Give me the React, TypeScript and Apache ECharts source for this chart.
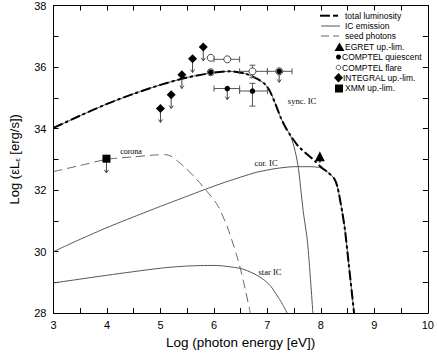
import React, { useEffect, useRef } from "react";
import * as echarts from "echarts";

// ---- data (log photon energy [eV], log eL_e [erg/s]) ----
const totalLuminosity: number[][] = [
  [3, 34.02], [3.5, 34.42], [4, 34.8], [4.5, 35.13], [5, 35.42], [5.5, 35.66],
  [6, 35.82], [6.3, 35.86], [6.6, 35.78], [6.8, 35.62], [6.95, 35.45], [7.05, 35.2],
  [7.15, 34.8], [7.25, 34.35], [7.35, 34.0], [7.43, 33.78], [7.58, 33.42],
  [7.89, 32.94], [8.0, 32.75], [8.15, 32.55], [8.25, 32.37], [8.31, 32.1],
  [8.4, 31.27], [8.45, 30.7], [8.52, 29.6], [8.62, 28.0],
];
const syncIC: number[][] = [
  [3, 34.02], [3.5, 34.42], [4, 34.8], [4.5, 35.13], [5, 35.42], [5.5, 35.66],
  [6, 35.82], [6.3, 35.86], [6.6, 35.78], [6.8, 35.62], [6.95, 35.45], [7.05, 35.2],
  [7.15, 34.8], [7.25, 34.35], [7.35, 34.0], [7.43, 33.78], [7.52, 33.25],
  [7.58, 32.7], [7.67, 31.3], [7.75, 30.3], [7.85, 28.0],
];
const corIC: number[][] = [
  [3, 30.0], [3.5, 30.4], [4, 30.78], [4.5, 31.13], [5, 31.47], [5.5, 31.8],
  [5.8, 32.0], [6.2, 32.25], [6.5, 32.42], [6.8, 32.58], [7.16, 32.7], [7.5, 32.76],
  [7.8, 32.76], [7.95, 32.74], [8.0, 32.72], [8.15, 32.55], [8.25, 32.37],
  [8.31, 32.1], [8.4, 31.27], [8.45, 30.7], [8.52, 29.6], [8.62, 28.0],
];
const starIC: number[][] = [
  [3, 28.98], [4, 29.23], [5, 29.46], [5.5, 29.53], [6, 29.55], [6.5, 29.45],
  [6.75, 29.28], [6.92, 29.1], [7.05, 28.9], [7.15, 28.65], [7.25, 28.38], [7.37, 28.0],
];
const coronaSeed: number[][] = [
  [3, 32.6], [3.5, 32.8], [4, 33.0], [4.5, 33.08], [4.9, 33.14], [5.1, 33.15],
  [5.2, 33.1], [5.3, 32.97], [5.45, 32.75], [5.64, 32.42], [5.85, 32.0],
  [6.07, 31.5], [6.25, 30.8], [6.43, 29.85], [6.55, 29.05], [6.68, 28.0],
];

// points: [x, y]
const egretUL: number[][] = [[7.98, 33.0]];
const xmmUL: number[][] = [[3.99, 33.02]];
const integralUL: number[][] = [
  [5.0, 34.65], [5.2, 35.1], [5.4, 35.75], [5.6, 36.27], [5.8, 36.65],
];
// [x, y, xlo, xhi, ylo, yhi] (null = no bar)
const comptelQuiescent: (number | null)[][] = [
  [5.94, 35.83, null, null, null, null],
  [6.25, 35.3, 6.0, 6.48, null, null],
  [6.72, 35.22, 6.48, 7.0, 34.73, 35.47],
  [7.22, 35.86, 7.0, 7.46, null, null],
];
const comptelFlare: (number | null)[][] = [
  [5.94, 36.3, null, null, null, null],
  [5.94, 35.83, null, null, null, null],
  [6.25, 36.25, 6.0, 6.48, null, null],
  [6.72, 35.86, 6.48, 7.0, 35.65, 36.06],
  [7.22, 35.86, null, null, null, null],
];
// upper-limit arrows: [x, y, length in dex]
const upperLimitArrows: number[][] = [
  [5.0, 34.65, 0.45], [5.2, 35.1, 0.45], [5.4, 35.75, 0.45], [5.6, 36.27, 0.45],
  [5.8, 36.65, 0.45], [6.25, 35.3, 0.36], [7.22, 35.86, 0.36], [3.99, 33.02, 0.46],
  [7.98, 33.0, 0.1],
];

const xTicks = [3, 4, 5, 6, 7, 8, 9, 10];
const yTicks = [28, 30, 32, 34, 36, 38];

const FONT = "'Liberation Sans', Helvetica, Arial, sans-serif";
const SERIF = "'Liberation Serif', 'Times New Roman', serif";

export default function App() {
  const ref = useRef<HTMLDivElement>(null);
  useEffect(() => {
    if (!ref.current) return;
    const chart = echarts.init(ref.current, undefined, { renderer: "svg" });

    const errorBars = [...comptelQuiescent, ...comptelFlare].filter(
      (d) => d[2] !== null || d[4] !== null
    );

    const axisCommon = {
      type: "value" as const,
      axisLine: { show: true, lineStyle: { color: "#000", width: 1 } },
      axisTick: { show: true, inside: true, length: 5, lineStyle: { color: "#000" } },
      splitLine: { show: false },
    };

    const lineLegend = (y: number, kind: string) => {
      if (kind === "total")
        return [
          { type: "line", shape: { x1: 320, y1: y, x2: 330, y2: y }, style: { stroke: "#000", lineWidth: 2 } },
          { type: "line", shape: { x1: 333, y1: y, x2: 338, y2: y }, style: { stroke: "#000", lineWidth: 2 } },
        ];
      if (kind === "ic")
        return [{ type: "line", shape: { x1: 321, y1: y, x2: 340, y2: y }, style: { stroke: "#555", lineWidth: 1 } }];
      return [
        { type: "line", shape: { x1: 321, y1: y, x2: 329, y2: y }, style: { stroke: "#666", lineWidth: 1 } },
        { type: "line", shape: { x1: 333, y1: y, x2: 339, y2: y }, style: { stroke: "#666", lineWidth: 1 } },
      ];
    };
    const legendText = (x: number, y: number, t: string) => ({
      type: "text",
      x, y,
      style: { text: t, font: `8.5px ${FONT}`, fill: "#000", verticalAlign: "middle", align: "left" },
    });
    const curve = (data: number[][], color: string, width: number, type: any, z: number, name: string) => ({
      name, type: "line", data, symbol: "none", showSymbol: false, smooth: 0.25, z,
      lineStyle: { color, width, type },
    });
    const black = { color: "#000", opacity: 1 };

    chart.setOption({
      animation: false,
      backgroundColor: "#fff",
      grid: { left: 48, right: 5, top: 5, bottom: 32 },
      xAxis: [
        {
          ...axisCommon,
          min: 3, max: 10, interval: 0.5,
          name: "Log (photon energy [eV])",
          nameLocation: "middle",
          nameGap: 17,
          nameTextStyle: { fontFamily: FONT, fontSize: 13.5, color: "#000" },
          axisLabel: {
            margin: 6,
            fontFamily: FONT, fontSize: 11, color: "#000",
            formatter: (v: number) => (xTicks.includes(v) ? String(v) : ""),
          },
        },
        { ...axisCommon, position: "top", min: 3, max: 10, interval: 0.5, axisLabel: { show: false } },
      ],
      yAxis: [
        {
          ...axisCommon,
          min: 28, max: 38, interval: 1,
          name: "Log (εL{s|ε} [erg/s])",
          nameLocation: "middle",
          nameGap: 32,
          nameTextStyle: {
            fontFamily: FONT, fontSize: 13, color: "#000",
            rich: { s: { fontFamily: FONT, fontSize: 8, color: "#000", verticalAlign: "bottom", padding: [6, 0, 0, 0] } },
          },
          axisLabel: {
            margin: 7,
            fontFamily: FONT, fontSize: 11, color: "#000",
            formatter: (v: number) => (yTicks.includes(v) ? String(v) : ""),
          },
        },
        { ...axisCommon, position: "right", min: 28, max: 38, interval: 1, axisLabel: { show: false } },
      ],
      series: [
        curve(coronaSeed, "#666", 1, [9, 5], 2, "seed photons"),
        curve(starIC, "#555", 1, "solid", 2, "star IC"),
        curve(corIC, "#555", 1, "solid", 2, "cor IC"),
        curve(syncIC, "#555", 1, "solid", 2, "sync IC"),
        curve(totalLuminosity, "#000", 2, [10, 3, 3, 3], 3, "total luminosity"),
        {
          name: "error bars", type: "custom", z: 4,
          data: errorBars.map((_, i) => i),
          renderItem: (params: any, api: any) => {
            const d = errorBars[params.dataIndex];
            const x = d[0] as number, y = d[1] as number;
            const children: any[] = [];
            const st = { stroke: "#555", lineWidth: 1 };
            if (d[2] !== null) {
              const a = api.coord([d[2], y]);
              const b = api.coord([d[3], y]);
              children.push({ type: "line", shape: { x1: a[0], y1: a[1], x2: b[0], y2: b[1] }, style: st });
              children.push({ type: "line", shape: { x1: a[0], y1: a[1] - 3, x2: a[0], y2: a[1] + 3 }, style: st });
              children.push({ type: "line", shape: { x1: b[0], y1: b[1] - 3, x2: b[0], y2: b[1] + 3 }, style: st });
            }
            if (d[4] !== null) {
              const a = api.coord([x, d[4]]);
              const b = api.coord([x, d[5]]);
              children.push({ type: "line", shape: { x1: a[0], y1: a[1], x2: b[0], y2: b[1] }, style: st });
              children.push({ type: "line", shape: { x1: a[0] - 3, y1: a[1], x2: a[0] + 3, y2: a[1] }, style: st });
              children.push({ type: "line", shape: { x1: b[0] - 3, y1: b[1], x2: b[0] + 3, y2: b[1] }, style: st });
            }
            return { type: "group", children };
          },
        },
        {
          name: "arrows", type: "custom", z: 4,
          data: upperLimitArrows.map((_, i) => i),
          renderItem: (params: any, api: any) => {
            const d = upperLimitArrows[params.dataIndex];
            const a = api.coord([d[0], d[1]]);
            const b = api.coord([d[0], d[1] - d[2]]);
            const st = { stroke: "#444", lineWidth: 1, fill: "none" };
            return {
              type: "group",
              children: [
                { type: "line", shape: { x1: a[0], y1: a[1], x2: b[0], y2: b[1] }, style: st },
                { type: "polyline", shape: { points: [[b[0] - 2, b[1] - 3], [b[0], b[1]], [b[0] + 2, b[1] - 3]] }, style: st },
              ],
            };
          },
        },
        {
          name: "COMPTEL flare", type: "scatter", data: comptelFlare.map((d) => [d[0], d[1]]),
          symbol: "circle", symbolSize: 7,
          itemStyle: { color: "#fff", borderColor: "#444", borderWidth: 1, opacity: 1 }, z: 5,
        },
        {
          name: "COMPTEL quiescent", type: "scatter", data: comptelQuiescent.map((d) => [d[0], d[1]]),
          symbol: "circle", symbolSize: 5.5, itemStyle: black, z: 6,
        },
        {
          name: "INTEGRAL up.-lim.", type: "scatter", data: integralUL,
          symbol: "diamond", symbolSize: 9, itemStyle: black, z: 6,
        },
        {
          name: "EGRET up.-lim.", type: "scatter", data: egretUL,
          symbol: "triangle", symbolSize: 10, symbolOffset: [0, -3], itemStyle: black, z: 6,
        },
        {
          name: "XMM up.-lim.", type: "scatter", data: xmmUL,
          symbol: "rect", symbolSize: 8, itemStyle: black, z: 6,
        },
      ],
      graphic: [
        ...lineLegend(15.7, "total"),
        legendText(345, 15.7, "total luminosity"),
        ...lineLegend(26, "ic"),
        legendText(345, 26, "IC emission"),
        ...lineLegend(36, "seed"),
        legendText(345, 36, "seed photons"),
        { type: "polygon", shape: { points: [[339.5, 42.5], [344.5, 51], [334.5, 51]] }, style: { fill: "#000" } },
        legendText(345, 47, "EGRET up.-lim."),
        { type: "circle", shape: { cx: 338.5, cy: 57, r: 2.5 }, style: { fill: "#000" } },
        legendText(342, 57, "COMPTEL quiescent"),
        { type: "circle", shape: { cx: 338.5, cy: 67.5, r: 2.3 }, style: { fill: "#fff", stroke: "#333", lineWidth: 0.8 } },
        legendText(342, 67.5, "COMPTEL flare"),
        { type: "polygon", shape: { points: [[338.5, 73], [343, 77.7], [338.5, 82.4], [334, 77.7]] }, style: { fill: "#000" } },
        legendText(343, 77.7, "INTEGRAL up.-lim."),
        { type: "rect", shape: { x: 335, y: 84.5, width: 8, height: 8 }, style: { fill: "#000" } },
        legendText(345, 88.3, "XMM up.-lim."),
        { type: "text", x: 131, y: 151.5, style: { text: "corona", font: `8px ${SERIF}`, fill: "#000", align: "center", verticalAlign: "middle" } },
        { type: "text", x: 266, y: 163, style: { text: "cor. IC", font: `8.5px ${SERIF}`, fill: "#000", align: "center", verticalAlign: "middle" } },
        { type: "text", x: 302, y: 100.7, style: { text: "sync. IC", font: `8.5px ${SERIF}`, fill: "#000", align: "center", verticalAlign: "middle" } },
        { type: "text", x: 270, y: 272.3, style: { text: "star IC", font: `8.5px ${SERIF}`, fill: "#000", align: "center", verticalAlign: "middle" } },
      ],
    });
    return () => chart.dispose();
  }, []);
  return <div ref={ref} style={{ width: 437, height: 354, position: "absolute", left: 0, top: 0 }} />;
}
